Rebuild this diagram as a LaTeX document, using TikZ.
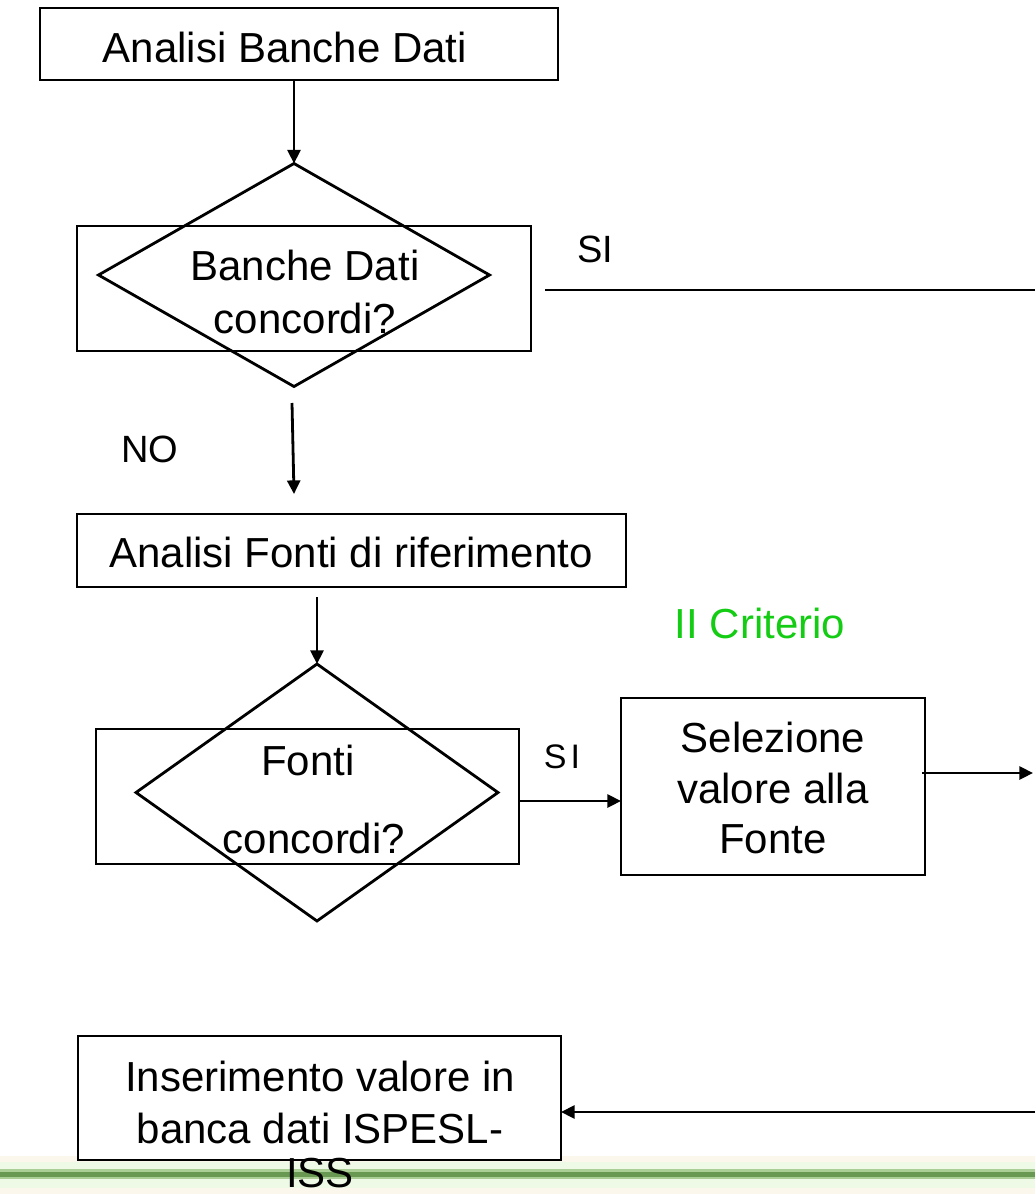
\documentclass[tikz,border=0pt]{standalone}
\usepackage{fontspec}
\setmainfont{Liberation Sans}
\usetikzlibrary{arrows.meta,shapes.geometric}
\definecolor{critgreen}{RGB}{20,204,20}
\definecolor{bandgreen}{RGB}{104,152,82}
\definecolor{bandmid}{RGB}{170,206,150}
\definecolor{bandlight}{RGB}{238,249,230}
\definecolor{bandbeige}{RGB}{252,247,236}
\begin{document}
\begin{tikzpicture}[x=0.5pt,y=-0.5pt,
  lw/.style={line width=1.4pt},
  boxnode/.style={draw,lw,rectangle,inner sep=0pt,outer sep=0pt},
  dianode/.style={draw,lw,diamond,inner sep=0pt,outer sep=0pt},
  arr/.style={lw,-{Triangle[length=6.8pt,width=6.5pt]}},
  txt/.style={anchor=base,inner sep=0pt,font=\fontsize{21}{23.5}\selectfont},
  lbl/.style={anchor=base,inner sep=0pt,font=\fontsize{19}{22}\selectfont}]
\useasboundingbox (0,0) rectangle (1035,1194);
% green band at bottom
\fill[bandbeige] (0,1156) rectangle (1035,1194);
\fill[bandlight] (0,1162) rectangle (1035,1188);
\fill[bandmid] (0,1169) rectangle (1035,1179);
\fill[bandgreen] (0,1171.5) rectangle (1035,1176.5);
% boxes
\node[boxnode,minimum width=259pt,minimum height=36pt] (b1) at (299,44) {};
\node[boxnode,minimum width=227pt,minimum height=62.5pt] (r1) at (304,288.5) {};
\node[dianode,minimum width=195.5pt,minimum height=111.5pt] (d1) at (294,275) {};
\node[boxnode,minimum width=274.5pt,minimum height=36.5pt] (b2) at (351.5,550.5) {};
\node[boxnode,minimum width=211.5pt,minimum height=67.5pt] (r2) at (307.5,796.5) {};
\node[dianode,minimum width=181pt,minimum height=128.5pt] (d2) at (317,792.5) {};
\node[boxnode,minimum width=152pt,minimum height=88.5pt] (b3) at (773,786.5) {};
\node[boxnode,fill=white,minimum width=241.5pt,minimum height=62pt] (b4) at (319.5,1098) {};
% texts
\node[txt] (t1) at (285,62) {Analisi Banche Dati};
\node[txt] (t2a) at (305,280) {Banche Dati};
\node[txt] (t2b) at (305,333) {concordi?};
\node[lbl] (si1) at (595,262) {SI};
\node[lbl] (no) at (150,462) {NO};
\node[txt] (t3) at (351,567) {Analisi Fonti di riferimento};
\node[txt,text=critgreen] (crit) at (760,638) {II Criterio};
\node[txt] (t4a) at (308,775) {Fonti};
\node[txt] (t4b) at (314,853) {concordi?};
\node[lbl,font=\fontsize{17}{20}\selectfont] (si2) at (562,768) {S\kern2pt I};
\node[txt] (t5a) at (773,752) {Selezione};
\node[txt] (t5b) at (773,803) {valore alla};
\node[txt] (t5c) at (773,853) {Fonte};
\node[txt] (t6a) at (320,1091) {Inserimento valore in};
\node[txt] (t6b) at (320,1143) {banca dati ISPESL-};
\node[txt] (t6c) at (320,1187) {ISS};
% coordinates
\coordinate (c1) at (294,80);
\coordinate (nos) at (292,403);
\coordinate (noe) at (294,494);
\coordinate (c2) at (317,597);
\coordinate (sis) at (545,290);
\coordinate (sie) at (1035,290);
\coordinate (ysi) at (0,801);
\coordinate (rs) at (922,773);
\coordinate (re) at (1033,773);
\coordinate (bs) at (1035,1112);
% connectors
\draw[arr] (c1) -- (d1.north);
\draw[lw] (sis) -- (sie);
\draw[arr] (nos) -- (noe);
\draw[arr] (c2) -- (d2.north);
\draw[arr] (r2.east |- ysi) -- (b3.west |- ysi);
\draw[arr] (rs) -- (re);
\draw[arr] (bs) -- (b4.east |- bs);
\end{tikzpicture}
\end{document}
